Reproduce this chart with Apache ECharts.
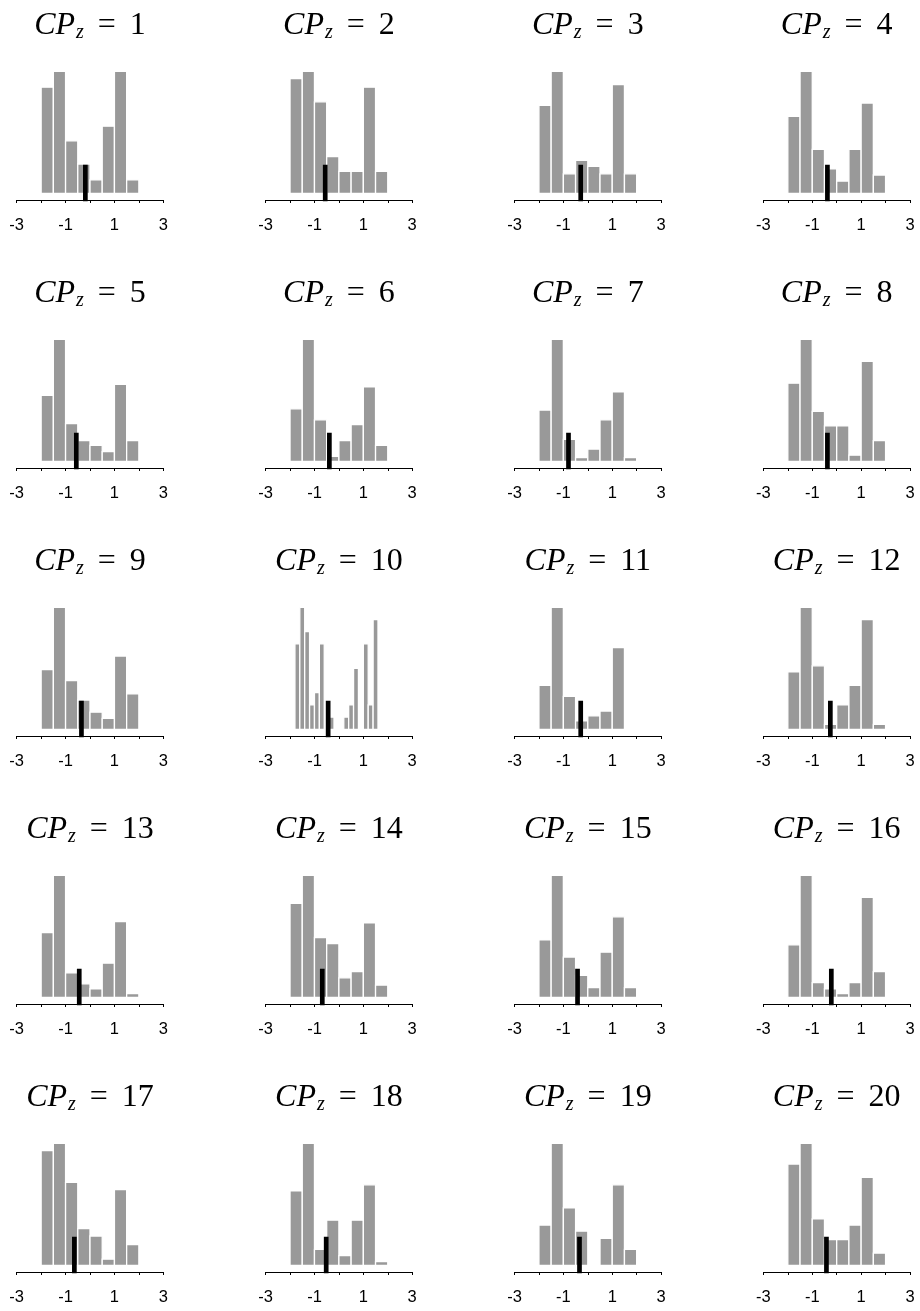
<!DOCTYPE html>
<html><head><meta charset="utf-8">
<script src="https://cdn.jsdelivr.net/npm/echarts@6/dist/echarts.min.js"></script>
<style>html,body{margin:0;padding:0;background:#fff}#c{width:920px;height:1311px}</style>
</head><body><div id="c"></div>
<script>
// ---- data ----
const cpValues = [1,2,3,4,5,6,7,8,9,10,11,12,13,14,15,16,17,18,19,20];
const binEdges = [-2,-1.5,-1,-0.5,0,0.5,1,1.5,2];
const binEdgesFine = [-1.8,-1.6,-1.4,-1.2,-1.0,-0.8,-0.6,-0.4,-0.2,0,0.2,0.4,0.6,0.8,1.0,1.2,1.4,1.6];
const h01 = [87,100,43,24,11,55,100,11];
const h02 = [94,100,75,30,18,18,87,18];
const h03 = [72,100,16,27,22,16,89,16];
const h04 = [63,100,36,20,10,36,74,15];
const h05 = [54,100,31,17,13,8,63,17];
const h06 = [43,100,34,4,17,30,61,13];
const h07 = [42,100,18,3,10,34,57,3];
const h08 = [64,100,41,29,29,5,82,17];
const h09 = [49,100,40,24,14,9,60,29];
const h10 = [70,100,80,20,30,70,0,10,0,0,10,20,50,0,70,20,90];
const h11 = [36,100,27,7,11,15,67,0];
const h12 = [47,100,52,4,20,36,90,4];
const h13 = [53,100,20,11,7,28,62,3];
const h14 = [77,100,49,44,16,21,61,10];
const h15 = [47,100,33,18,8,37,66,8];
const h16 = [43,100,12,7,3,12,82,21];
const h17 = [94,100,68,30,24,5,62,17];
const h18 = [61,100,13,37,8,37,66,3];
const h19 = [33,100,47,28,0,22,66,13];
const h20 = [83,100,38,21,21,33,72,10];
const markerX = [-0.19,-0.56,-0.29,-0.38,-0.56,-0.39,-0.79,-0.38,-0.35,-0.44,-0.29,-0.26,-0.44,-0.68,-0.42,-0.22,-0.64,-0.52,-0.34,-0.42];
const markerTop = 23.4;
const xTickValues = [-3,-2,-1,0,1,2,3];
const xTickLabels = [-3,-1,1,3];

const heights = [h01,h02,h03,h04,h05,h06,h07,h08,h09,h10,h11,h12,h13,h14,h15,h16,h17,h18,h19,h20];
const edgesFor = i => (heights[i].length === 8 ? binEdges : binEdgesFine);

// ---- layout ----
const colLeft = [16.7, 265.6, 514.5, 763.4];
const plotW = 146.6;
const axisY0 = 200, rowStep = 268;
const plotH = 128.7;
const yMin = -5.49, yMax = 100;

const serif = 'Liberation Serif';
const rich = {
  m: {fontFamily: serif, fontStyle: 'italic', fontWeight: 'normal', fontSize: 32, lineHeight: 34, color: '#000', padding: [0, 1, 0, 0]},
  s: {fontFamily: serif, fontStyle: 'italic', fontWeight: 'normal', fontSize: 20, lineHeight: 20, verticalAlign: 'bottom', color: '#000'},
  e: {fontFamily: serif, fontWeight: 'normal', fontSize: 32, lineHeight: 34, padding: [0, 14, 0, 14], color: '#000'},
  n: {fontFamily: serif, fontWeight: 'normal', fontSize: 32, lineHeight: 34, color: '#000'}
};

const grids = [], xAxes = [], yAxes = [], series = [], titles = [];
heights.forEach((h, i) => {
  const r = Math.floor(i / 4), c = i % 4;
  const axisY = axisY0 + rowStep * r;
  grids.push({left: colLeft[c], top: axisY - plotH, width: plotW, height: plotH, containLabel: false});
  xAxes.push({
    gridIndex: i, type: 'value', min: -3, max: 3, interval: 1,
    axisLine: {show: true, onZero: false, lineStyle: {color: '#000', width: 1}},
    axisTick: {show: true, length: 3, inside: false, customValues: xTickValues, lineStyle: {color: '#000', width: 1}},
    axisLabel: {show: true, customValues: xTickLabels, formatter: v => String(v), color: '#000',
      fontFamily: 'Liberation Sans', fontSize: 16.5, margin: 16.5},
    splitLine: {show: false}
  });
  yAxes.push({gridIndex: i, type: 'value', min: yMin, max: yMax, show: false, splitLine: {show: false}});
  const edges = edgesFor(i);
  const data = [];
  h.forEach((v, k) => { if (v > 0) data.push([edges[k], edges[k + 1], v]); });
  series.push({
    type: 'custom', xAxisIndex: i, yAxisIndex: i, data: data,
    encode: {x: [0, 1], y: 2},
    renderItem: (params, api) => {
      const p0 = api.coord([api.value(0), 0]);
      const p1 = api.coord([api.value(1), api.value(2)]);
      return {type: 'rect', shape: {x: p0[0], y: p1[1], width: p1[0] - p0[0], height: p0[1] - p1[1]},
        style: {fill: '#999999', stroke: '#ffffff', lineWidth: 1.3}};
    },
    z: 2
  });
  series.push({
    type: 'line', xAxisIndex: i, yAxisIndex: i, clip: false, symbol: 'none',
    data: [[markerX[i], yMin - 1], [markerX[i], markerTop]],
    lineStyle: {color: '#000', width: 4.7, cap: 'butt'}, z: 5
  });
  titles.push({
    text: '{m|CP}{s|z}{e|=}{n|' + cpValues[i] + '}',
    left: colLeft[c] + plotW / 2, top: 8.5 + rowStep * r, textAlign: 'center', padding: 0,
    textStyle: {fontWeight: 'normal', rich: rich}
  });
});

const chart = echarts.init(document.getElementById('c'), null, {renderer: 'canvas'});
chart.setOption({animation: false, backgroundColor: '#fff', title: titles, grid: grids, xAxis: xAxes, yAxis: yAxes, series: series});
</script></body></html>
